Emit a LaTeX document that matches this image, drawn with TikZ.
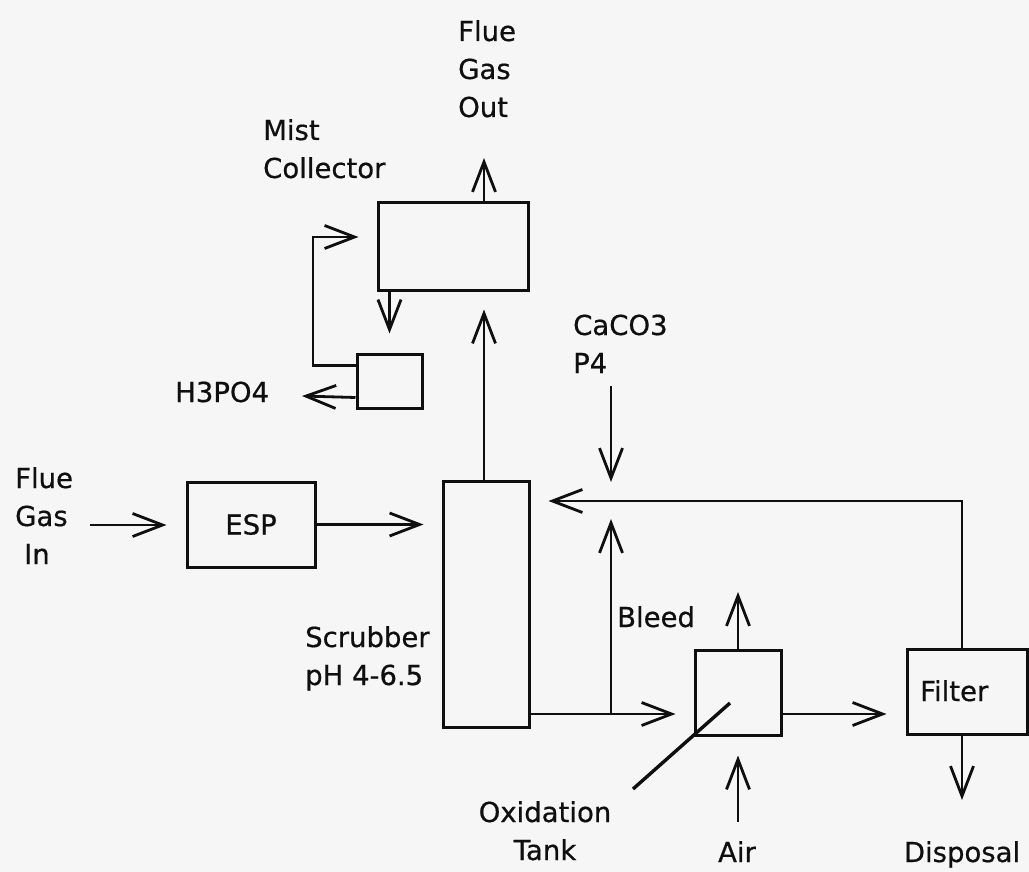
\documentclass[tikz,border=0pt]{standalone}
\usepackage{fontspec}
\setmainfont{DejaVu Sans}[FakeBold=0.6]
\newfontfamily\tagfont{DejaVu Sans}[FakeBold=0.6]
\usepackage{tikz}
\usetikzlibrary{arrows.meta, positioning, calc}
\definecolor{paper}{RGB}{246,246,246}
\definecolor{ink}{RGB}{15,15,15}

\begin{document}
\begin{tikzpicture}[x=1pt, y=-1pt,
    unit/.style={rectangle, draw=ink, line width=3pt,
                 inner sep=0pt, text=ink,
                 font=\tagfont\fontsize{27.5}{38}\selectfont},
    lbl/.style={inner sep=0pt, align=left, anchor=base west,
                text=ink, font=\tagfont\fontsize{27.5}{38}\selectfont},
    flow/.style={draw=ink, line width=2.8pt,
                 -{Straight Barb[length=30pt, width=23pt]}},
    pipe/.style={draw=ink, line width=2.8pt}
]
    \fill[paper] (0,0) rectangle (1029,872);

    \node[unit, minimum width=150, minimum height=87] (mist)   at (453,246.5) {};
    \node[unit, minimum width=65,  minimum height=54] (sep)    at (389.5,381) {};
    \node[unit, minimum width=128, minimum height=85] (esp)    at (251,524.5) {ESP};
    \node[unit, minimum width=86,  minimum height=246] (scrub) at (486,604) {};
    \node[unit, minimum width=86,  minimum height=85] (oxtank) at (738,692.5) {};
    \node[unit, minimum width=120, minimum height=85] (filter) at (967,691.5) {};

    \node[lbl] (outlbl)    at (458,117) {Flue\\Gas\\Out};
    \node[lbl] (mistlbl)   at (263,178) {Mist\\Collector};
    \node[lbl] (acidlbl)   at (175,402) {H3PO4};
    \node[lbl] (inlbl)     at (15,564)  {Flue\\Gas\\\hspace*{9pt}In};
    \node[lbl] (scrublbl)  at (305,685) {Scrubber\\pH 4-6.5};
    \node[lbl] (feedlbl)   at (573,373) {CaCO3\\P4};
    \node[lbl] (bleedlbl)  at (617,627) {Bleed};
    \node[lbl] (filterlbl) at (920,701) {Filter};
    \node[lbl, anchor=base, align=center] (tanklbl) at (545,860) {Oxidation\\Tank};
    \node[lbl, anchor=base] (airlbl)  at (737,862) {Air};
    \node[lbl, anchor=base] (displbl) at (962,862) {Disposal};

    \coordinate (gasout)    at (484,158);
    \coordinate (inlet)     at (90,525);
    \coordinate (loop)      at (313,237);
    \coordinate (acid)      at (302,396);
    \coordinate (feed)      at (611,386);
    \coordinate (mix)       at (611,501);
    \coordinate (split)     at (611,714);
    \coordinate (vent)      at (738,592);
    \coordinate (airin)     at (738,822);
    \coordinate (drain)     at (962,800);
    \coordinate (paddle)    at (633,789);
    \coordinate (paddletip) at (730,703);

    \draw[flow, shorten >=19pt] (inlet) -- (inlet -| esp.west);
    \draw[flow, shorten >=18pt] (esp.east) -- (esp.east -| scrub.west);
    \draw[flow, shorten >=18pt] (gasout |- scrub.north) -- (gasout |- mist.south);
    \draw[flow] (gasout |- mist.north) -- (gasout);
    \draw[flow, shorten >=19pt] (sep.north |- mist.south) -- (sep.north);
    \draw[flow, shorten >=18pt] ([yshift=-13pt]sep.north west) -| (loop) -- (loop -| mist.west);
    \draw[flow] ([yshift=12pt]sep.south west) -- (acid);
    \draw[flow, shorten >=19pt] (feed) -- (mix);
    \draw[flow, shorten >=18pt] (drain |- filter.north) |- (mix) -- (mix -| scrub.east);
    \draw[flow, shorten >=18pt] (split) -- (mix);
    \draw[flow, shorten >=18pt] (split -| scrub.east) -- (split -| oxtank.west);
    \draw[flow, shorten >=19pt] (split -| oxtank.east) -- (split -| filter.west);
    \draw[flow] (vent |- oxtank.north) -- (vent);
    \draw[flow, shorten >=19pt] (airin) -- (airin |- oxtank.south);
    \draw[flow] (drain |- filter.south) -- (drain);
    \draw[pipe, line width=3.4pt] (paddle) -- (paddletip);
\end{tikzpicture}
\end{document}
